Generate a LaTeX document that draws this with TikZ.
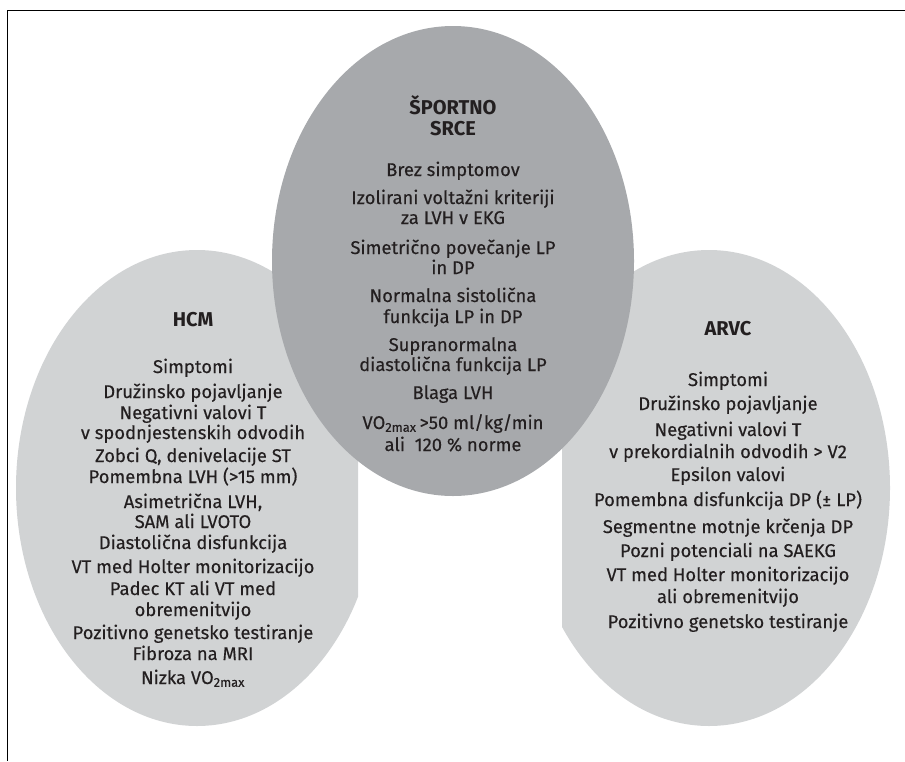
\documentclass[tikz,border=0pt]{standalone}
\usepackage{fontspec}
\setmainfont{Fira Sans}
\newfontfamily\itemfont{Fira Sans}[FakeBold=0.25]
\definecolor{darkfill}{HTML}{A7A9AC}
\definecolor{lightfill}{HTML}{D1D3D4}
\definecolor{txt}{HTML}{231F20}
\begin{document}
\begin{tikzpicture}[x=1pt,y=-1pt,
  item/.style={font=\itemfont\fontsize{18.4}{21}\selectfont, text=txt, inner sep=0pt, anchor=base},
  ttl/.style={font=\fontsize{20}{23}\selectfont\bfseries, text=txt, inner sep=0pt, anchor=base},
  frameline/.style={line width=1.5pt, black}]
\useasboundingbox (0,0) rectangle (905,761);
% side ellipses (clipped)
\begin{scope}
  \clip (0,0) rectangle (358,761);
  \fill[lightfill] (197,488) ellipse [x radius=181pt, y radius=238pt];
\end{scope}
\begin{scope}
  \clip (562,0) rectangle (905,761);
  \fill[lightfill] (709,488) ellipse [x radius=181pt, y radius=238pt];
\end{scope}
% centre ellipse
\fill[darkfill] (453,261) ellipse [x radius=181pt, y radius=235pt];
% frame
\coordinate (tl) at (7.5,10.5);
\coordinate (tr) at (905,10.5);
\coordinate (bl) at (7.5,761);
\draw[frameline] (tr) -- (tl) -- (bl);
% centre texts
\node[ttl]  (c0a) at (453,114) {ŠPORTNO};
\node[ttl]  (c0b) at (453,135) {SRCE};
\node[item] (c1)  at (453,176) {Brez simptomov};
\node[item] (c2)  at (453,204) {Izolirani voltažni kriteriji};
\node[item] (c3)  at (453,224) {za LVH v EKG};
\node[item] (c4)  at (453,254) {Simetrično povečanje LP};
\node[item] (c5)  at (453,274) {in DP};
\node[item] (c6)  at (453,302) {Normalna sistolična};
\node[item] (c7)  at (453,323) {funkcija LP in DP};
\node[item] (c8)  at (453,351) {Supranormalna};
\node[item] (c9)  at (453,371) {diastolična funkcija LP};
\node[item] (c10) at (453,399) {Blaga LVH};
\node[item] (c11) at (453,429) {VO\textsubscript{2max}\,>50 ml/kg/min};
\node[item] (c12) at (453,451) {ali~~120 \% norme};
% HCM texts
\node[ttl]  (h0)  at (193,326) {HCM};
\node[item] (h1)  at (193,373) {Simptomi};
\node[item] (h2)  at (193,398) {Družinsko pojavljanje};
\node[item] (h3)  at (193,419) {Negativni valovi T};
\node[item] (h4)  at (193,439) {v spodnjestenskih odvodih};
\node[item] (h5)  at (193,462) {Zobci Q, denivelacije ST};
\node[item] (h6)  at (193,483) {Pomembna LVH (>15 mm)};
\node[item] (h7)  at (193,508) {Asimetrična LVH,};
\node[item] (h8)  at (193,528) {SAM ali LVOTO};
\node[item] (h9)  at (193,549) {Diastolična disfunkcija};
\node[item] (h10) at (193,573) {VT med Holter monitorizacijo};
\node[item] (h11) at (193,595) {Padec KT ali VT med};
\node[item] (h12) at (193,616) {obremenitvijo};
\node[item] (h13) at (193,639) {Pozitivno genetsko testiranje};
\node[item] (h14) at (193,660) {Fibroza na MRI};
\node[item] (h15) at (193,684) {Nizka VO\textsubscript{2max}};
% ARVC texts
\node[ttl]  (a0)  at (728,335) {ARVC};
\node[item] (a1)  at (728,386) {Simptomi};
\node[item] (a2)  at (728,410) {Družinsko pojavljanje};
\node[item] (a3)  at (728,436) {Negativni valovi T};
\node[item] (a4)  at (728,458) {v prekordialnih odvodih > V2};
\node[item] (a5)  at (728,481) {Epsilon valovi};
\node[item] (a6)  at (728,506) {Pomembna disfunkcija DP (± LP)};
\node[item] (a7)  at (728,533) {Segmentne motnje krčenja DP};
\node[item] (a8)  at (728,557) {Pozni potenciali na SAEKG};
\node[item] (a9)  at (728,581) {VT med Holter monitorizacijo};
\node[item] (a10) at (728,603) {ali obremenitvijo};
\node[item] (a11) at (728,628) {Pozitivno genetsko testiranje};
\end{tikzpicture}
\end{document}
